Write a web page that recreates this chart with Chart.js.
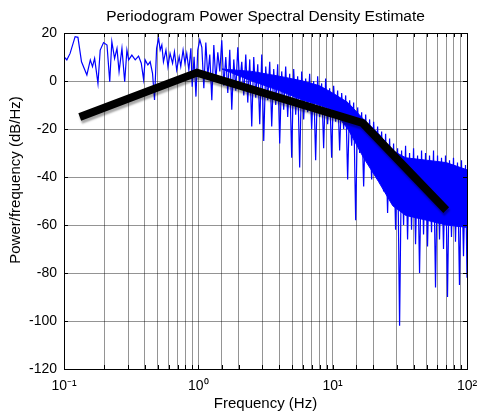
<!DOCTYPE html>
<html>
<head>
<meta charset="utf-8">
<script src="https://cdn.jsdelivr.net/npm/chart.js@4.4.1/dist/chart.umd.min.js"></script>
<style>
  html, body { margin: 0; padding: 0; background: #fff; }
  #wrap { width: 478px; height: 416px; }
</style>
</head>
<body>
<div id="wrap"><canvas id="psd"></canvas></div>
<script>
// periodogram (blue)
const psdFreq = [
  0.1, 0.105, 0.111, 0.121, 0.127, 0.135, 0.148, 0.157, 0.163, 0.169,
  0.179, 0.186, 0.197, 0.209, 0.219, 0.227, 0.238, 0.248, 0.257, 0.270,
  0.283, 0.294, 0.303, 0.320, 0.339, 0.359, 0.376, 0.391, 0.402, 0.421,
  0.438, 0.456, 0.472, 0.489, 0.506, 0.520, 0.535, 0.550, 0.574, 0.594,
  0.616, 0.643, 0.664, 0.690, 0.720, 0.740, 0.770, 0.795, 0.820, 0.850,
  0.880, 0.900, 0.930, 0.960, 0.990, 1.026,
  1.062, 1.099, 1.137, 1.176, 1.217, 1.260, 1.304, 1.349, 1.396, 1.445,
  1.495, 1.547, 1.601, 1.657, 1.714, 1.774, 1.836, 1.900, 1.966, 2.034,
  2.105, 2.179, 2.255, 2.333, 2.414, 2.498, 2.585, 2.675, 2.769, 2.865,
  2.965, 3.068, 3.175, 3.285, 3.400, 3.518, 3.640, 3.767, 3.898, 4.034,
  4.175, 4.320, 4.470, 4.626, 4.787, 4.954, 5.126, 5.305, 5.489, 5.681,
  5.878, 6.083, 6.295, 6.514, 6.741, 6.976, 7.219, 7.470, 7.730, 8.000,
  8.278, 8.567, 8.865, 9.174, 9.493, 9.824, 10.17, 10.52, 10.89, 11.27,
  11.67, 12.07, 12.50, 12.93, 13.38, 13.85, 14.33, 14.83, 15.35, 15.88,
  16.43, 17.01, 17.60, 18.21, 18.84, 19.50, 20.18, 20.88, 21.61, 22.36,
  23.14, 23.94, 24.78, 25.64, 26.53, 27.46, 28.41, 29.40, 30.43, 31.49,
  32.58, 33.72, 34.89, 36.11, 37.36, 38.66, 40.01, 41.40, 42.85, 44.34,
  45.88, 47.48, 49.13, 50.84, 52.61, 54.45, 56.34, 58.30, 60.33, 62.43,
  64.61, 66.86, 69.18, 71.59, 74.08, 76.66, 79.33, 82.10, 84.95, 87.91,
  90.98, 94.19, 97.47, 100
];
const psdDb = [
  10.1, 8.8, 11.5, 18.5, 18.2, 8.0, 2.5, 8.8, 6.0, 9.4,
  -1, 12.9, 16, 15, -0.3, 16.4, 9.4, 13.6, 3.9, 13.6,
  -0.3, 12.9, 8.8, 10.8, 8.8, 10.4, 7.4, 0.7, 8.8, 6.7,
  8.0, 3.2, -7.9, 13.6, 17.8, 12.9, 15.0, 8.0, 12.9, 6.0,
  11.5, 7.4, 12.2, 4.6, 10.1, 6.0, 12.9, 7.4, 11.5, 4.6,
  13.6, -2.4, 10.1, -6.5, 12.9, 17.1,
  14, -3, 16, 2, 11, -8, 15, 0, 12, 4,
  17, -2, 10, -5, 13, -12, 9, -4, 14, -1,
  8, -6, 11, -9, 9, -19, 10, -7, 7, -18,
  11, -25, 6, -8, 8, -19, 5, -10, 7, -26,
  4, -12, 6, -15, 3, -32, 5, -14, 2, -36,
  4, -16, 1, -13, 3, -20, 0, -33, 2, -15,
  -1, -28, 1, -18, -3, -32, -2, -17, -4, -29,
  -5, -20, -6, -41, -8, -27, -9, -58, -11, -30,
  -13, -44, -14, -33, -16, -41, -17, -36, -19, -41,
  -21, -46, -22, -55, -24, -50, -26, -62, -28, -102,
  -29, -60, -27, -66, -30, -62, -28, -68, -31, -80,
  -29, -64, -30, -69, -31, -63, -29, -86, -31, -66,
  -32, -70, -31, -90, -33, -65, -32, -67, -34, -85,
  -33, -73, -35, -82
];

// where the periodogram trace is so dense it reads as solid blue
const coreFreq = [1.5, 2.5, 4, 6, 8, 10, 13, 17, 22, 28, 35, 50, 70, 100];
const coreTop = [5, 4, 2, 0, -2, -5, -9, -16, -22, -29, -32, -33, -34, -37];
const coreBottom = [5, 0, -4, -8, -10, -12, -20, -32, -42, -52, -56, -58, -60, -61];

// fitted broken line (black)
const fitFreq = [0.131, 0.977, 16.7, 70];
const fitDb = [-15, 3.5, -17.5, -53.8];

const xTickLabels = { '-1': '10\u207B\u00B9', '0': '10\u2070', '1': '10\u00B9', '2': '10\u00B2' };
const yLabel = 'Power/frequency (dB/Hz)';

const fam = 'Liberation Sans, Arial, sans-serif';
const tickFont = { family: fam, size: 14 };
const labelFont = { family: fam, size: 15 };
const gridGray = 'rgba(0,0,0,0.42)';
const blue = '#0000ff';

const pts = (xs, ys) => xs.map((f, i) => ({ x: f, y: ys[i] }));

// box around the axes, with inward ticks like MATLAB, plus the y label
const boxPlugin = {
  id: 'box',
  afterDraw(chart) {
    const { ctx, chartArea: a, scales } = chart;
    ctx.save();
    ctx.strokeStyle = '#000';
    ctx.lineWidth = 1;
    ctx.beginPath();
    scales.x.ticks.forEach(t => {
      const px = Math.round(scales.x.getPixelForValue(t.value)) + 0.5;
      ctx.moveTo(px, a.bottom); ctx.lineTo(px, a.bottom - 4);
      ctx.moveTo(px, a.top); ctx.lineTo(px, a.top + 4);
    });
    scales.y.ticks.forEach(t => {
      const py = Math.round(scales.y.getPixelForValue(t.value)) + 0.5;
      ctx.moveTo(a.left, py); ctx.lineTo(a.left + 4, py);
      ctx.moveTo(a.right, py); ctx.lineTo(a.right - 4, py);
    });
    ctx.stroke();
    ctx.strokeRect(Math.round(a.left) + 0.5, Math.round(a.top) + 0.5,
      Math.round(a.right - a.left), Math.round(a.bottom - a.top));

    // MATLAB put the y label a bit above the axes centre
    ctx.translate(16, 180);
    ctx.rotate(-Math.PI / 2);
    ctx.fillStyle = '#000';
    ctx.font = labelFont.size + 'px ' + fam;
    ctx.textAlign = 'center';
    ctx.textBaseline = 'middle';
    ctx.fillText(yLabel, 0, 0);
    ctx.restore();
  }
};

// soft grey drop shadow under the thick black line
const shadowPlugin = {
  id: 'lineShadow',
  beforeDatasetDraw(chart, args) {
    if (args.meta.label !== 'Fit') return;
    const ctx = chart.ctx;
    ctx.save();
    ctx.shadowColor = 'rgba(0,0,0,0.35)';
    ctx.shadowOffsetX = 1;
    ctx.shadowOffsetY = 3;
    ctx.shadowBlur = 2;
  },
  afterDatasetDraw(chart, args) {
    if (args.meta.label !== 'Fit') return;
    chart.ctx.restore();
  }
};

new Chart(document.getElementById('psd').getContext('2d'), {
  type: 'line',
  data: {
    datasets: [{
      label: 'Fit',
      data: pts(fitFreq, fitDb),
      borderColor: '#000',
      borderWidth: 8,
      borderCapStyle: 'butt',
      borderJoinStyle: 'miter',
      pointRadius: 0,
      tension: 0,
      order: 0
    }, {
      label: 'Periodogram',
      data: pts(psdFreq, psdDb),
      borderColor: blue,
      borderWidth: 1.2,
      pointRadius: 0,
      tension: 0,
      order: 1
    }, {
      label: 'core top',
      data: pts(coreFreq, coreTop),
      borderColor: blue,
      borderWidth: 1,
      pointRadius: 0,
      tension: 0,
      fill: false,
      order: 2
    }, {
      label: 'core bottom',
      data: pts(coreFreq, coreBottom),
      borderColor: blue,
      borderWidth: 1,
      backgroundColor: blue,
      pointRadius: 0,
      tension: 0,
      fill: '-1',
      order: 3
    }]
  },
  options: {
    responsive: true,
    maintainAspectRatio: false,
    animation: false,
    layout: { padding: { left: 0, right: 11, top: 0, bottom: 0 } },
    plugins: {
      legend: { display: false },
      tooltip: { enabled: false },
      filler: { propagate: false },
      title: {
        display: true,
        fullSize: false,
        text: 'Periodogram Power Spectral Density Estimate',
        color: '#000',
        font: { family: fam, size: 15.5, weight: 'normal' },
        padding: { top: 7, bottom: 7.4 }
      }
    },
    scales: {
      x: {
        type: 'logarithmic',
        min: 0.1,
        max: 100,
        grid: { color: gridGray, drawTicks: false },
        border: { display: false },
        ticks: {
          autoSkip: false,
          maxRotation: 0,
          padding: 9,
          color: '#000',
          font: tickFont,
          callback: (v) => {
            const e = Math.log10(v);
            return Math.abs(e - Math.round(e)) < 1e-6 ? xTickLabels[String(Math.round(e))] : '';
          }
        },
        title: {
          display: true,
          text: 'Frequency (Hz)',
          color: '#000',
          font: labelFont,
          padding: { top: 0, bottom: 3 }
        },
        afterFit(s) { s.height = 47; s.paddingLeft = 0; s.paddingRight = 0; }
      },
      y: {
        min: -120,
        max: 20,
        grid: { color: gridGray, drawTicks: false },
        border: { display: false },
        ticks: { stepSize: 20, padding: 7, color: '#000', font: tickFont },
        afterFit(s) { s.width = 64; s.paddingTop = 0; s.paddingBottom = 0; }
      }
    }
  },
  plugins: [shadowPlugin, boxPlugin]
});
</script>
</body>
</html>
